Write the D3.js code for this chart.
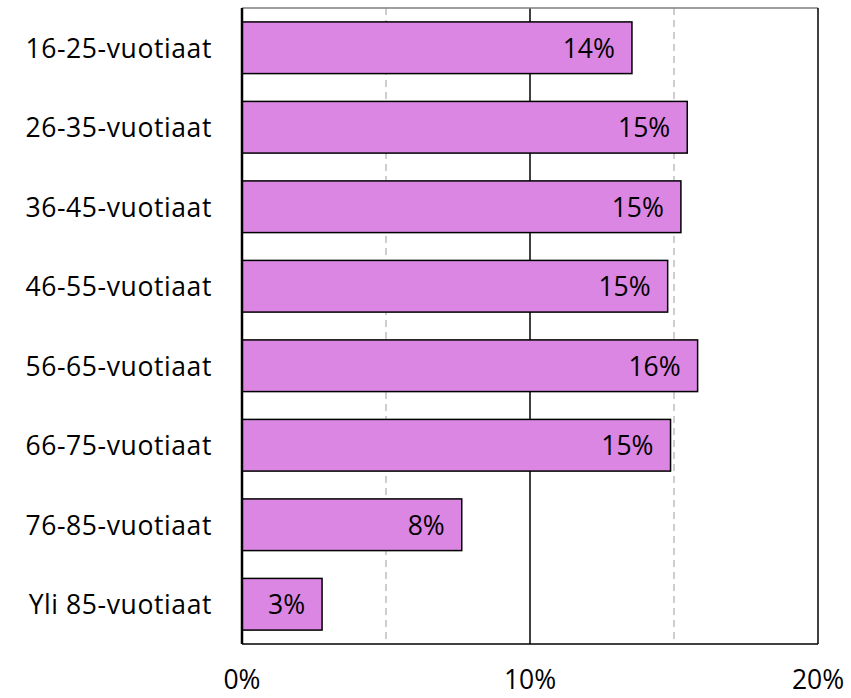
<!DOCTYPE html>
<html><head><meta charset="utf-8">
<script src="https://cdn.jsdelivr.net/npm/d3@7"></script>
<style>body{margin:0;background:#fff;}svg{display:block;font-family:"Open Sans",sans-serif;}</style>
</head><body><svg id="c" width="851" height="698"></svg>
<script>
const categories = ["16-25-vuotiaat","26-35-vuotiaat","36-45-vuotiaat","46-55-vuotiaat","56-65-vuotiaat","66-75-vuotiaat","76-85-vuotiaat","Yli 85-vuotiaat"];
const values = [13.54, 15.46, 15.24, 14.78, 15.82, 14.88, 7.63, 2.78];
const valueLabels = ["14%","15%","15%","15%","16%","15%","8%","3%"];
const xTicks = [0, 10, 20];
const dashedGrid = [5, 15];

const svg = d3.select("#c");
const L = 242, R = 818, T = 8, B = 644;
const FS = 26.5;
const x = d3.scaleLinear().domain([0, 20]).range([L, R]);
const y = d3.scaleBand().domain(categories).range([T, B]).paddingInner(0.35).paddingOuter(0.175);

svg.selectAll(".g").data(dashedGrid).join("line")
  .attr("x1", d => x(d)).attr("x2", d => x(d)).attr("y1", T).attr("y2", B)
  .attr("stroke", "#bfbfbf").attr("stroke-width", 1.5).attr("stroke-dasharray", "7,5");
svg.append("line").attr("x1", x(10)).attr("x2", x(10)).attr("y1", T).attr("y2", B)
  .attr("stroke", "#000").attr("stroke-width", 1.5);
svg.append("line").attr("x1", L).attr("x2", R).attr("y1", T).attr("y2", T).attr("stroke", "#7f7f7f").attr("stroke-width", 1.5);
svg.append("line").attr("x1", R).attr("x2", R).attr("y1", T).attr("y2", B).attr("stroke", "#000").attr("stroke-width", 1.5);
svg.append("line").attr("x1", L).attr("x2", R).attr("y1", B).attr("y2", B).attr("stroke", "#000").attr("stroke-width", 1.5);

svg.selectAll(".bar").data(categories).join("rect")
  .attr("x", x(0)).attr("y", d => y(d))
  .attr("width", (d, i) => x(values[i]) - x(0)).attr("height", y.bandwidth())
  .attr("fill", "#da86e2").attr("stroke", "#000").attr("stroke-width", 1.5);

svg.append("line").attr("x1", L).attr("x2", L).attr("y1", T).attr("y2", B).attr("stroke", "#000").attr("stroke-width", 2.5);

svg.selectAll(".vl").data(categories).join("text")
  .attr("x", (d, i) => x(values[i]) - 17).attr("y", d => y(d) + y.bandwidth() / 2 + 10)
  .attr("text-anchor", "end").attr("font-size", FS).attr("fill", "#000")
  .text((d, i) => valueLabels[i]);

svg.selectAll(".cl").data(categories).join("text")
  .attr("x", L - 30).attr("y", d => y(d) + y.bandwidth() / 2 + 10)
  .attr("text-anchor", "end").attr("font-size", FS).attr("letter-spacing", "0.6px").attr("fill", "#000")
  .text(d => d);

svg.selectAll(".xt").data(xTicks).join("text")
  .attr("x", d => x(d)).attr("y", 689)
  .attr("text-anchor", "middle").attr("font-size", FS).attr("fill", "#000")
  .text(d => d + "%");
</script></body></html>
